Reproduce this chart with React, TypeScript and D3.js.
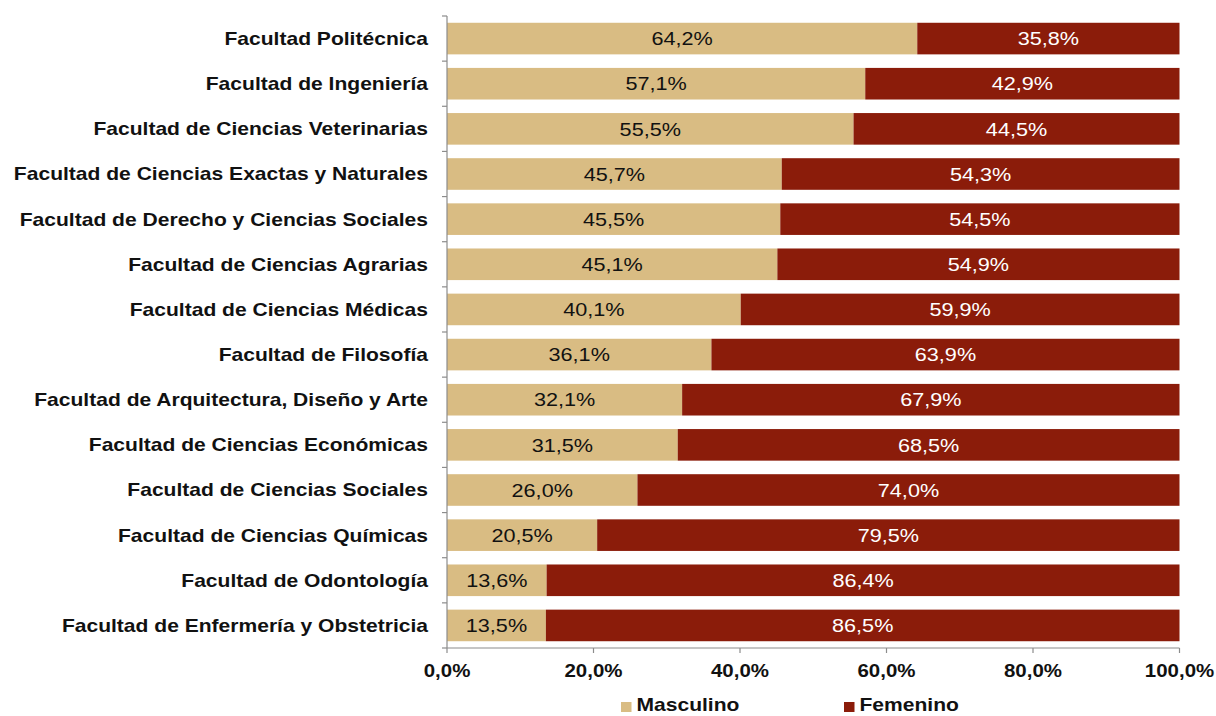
import React from "react";
import * as d3 from "d3";

const categories = [
  "Facultad Politécnica",
  "Facultad de Ingeniería",
  "Facultad de Ciencias Veterinarias",
  "Facultad de Ciencias Exactas y Naturales",
  "Facultad de Derecho y Ciencias Sociales",
  "Facultad de Ciencias Agrarias",
  "Facultad de Ciencias Médicas",
  "Facultad de Filosofía",
  "Facultad de Arquitectura, Diseño y Arte",
  "Facultad de Ciencias Económicas",
  "Facultad de Ciencias Sociales",
  "Facultad de Ciencias Químicas",
  "Facultad de Odontología",
  "Facultad de Enfermería y Obstetricia",
];
const masculino = [64.2, 57.1, 55.5, 45.7, 45.5, 45.1, 40.1, 36.1, 32.1, 31.5, 26.0, 20.5, 13.6, 13.5];
const femenino = [35.8, 42.9, 44.5, 54.3, 54.5, 54.9, 59.9, 63.9, 67.9, 68.5, 74.0, 79.5, 86.4, 86.5];
const xTicks = [0, 20, 40, 60, 80, 100];
const seriesNames = ["Masculino", "Femenino"];

const W = 1216;
const H = 716;
const colors = ["#D9BC83", "#8B1C0A"];
const font = "'Liberation Sans', Arial, sans-serif";
const SX = 1.17;
const fmt = (v: number) => v.toFixed(1).replace(".", ",") + "%";

function SText(props: {
  x: number;
  y: number;
  anchor?: "start" | "middle" | "end";
  size: number;
  bold?: boolean;
  fill?: string;
  dy?: string;
  children: React.ReactNode;
}) {
  return (
    <text
      transform={`translate(${props.x},${props.y}) scale(${SX},1)`}
      dy={props.dy}
      textAnchor={props.anchor || "start"}
      fontSize={props.size}
      fontWeight={props.bold ? "bold" : "normal"}
      fill={props.fill || "#111"}
    >
      {props.children}
    </text>
  );
}

export default function App() {
  const x = d3.scaleLinear().domain([0, 100]).range([447, 1179.5]);
  const y = d3.scaleBand<string>().domain(categories).range([16, 648]).paddingInner(0.3).paddingOuter(0.15);
  const bounds = d3.range(categories.length + 1).map((i) => 16 + i * ((648 - 16) / categories.length));

  return (
    <svg width={W} height={H} style={{ position: "absolute", left: 0, top: 0, background: "#fff" }} fontFamily={font}>
      {categories.map((c, i) => {
        const y0 = y(c)!;
        const bh = y.bandwidth();
        const m = masculino[i];
        const f = femenino[i];
        return (
          <g key={c}>
            <rect x={x(0)} y={y0} width={x(m) - x(0)} height={bh} fill={colors[0]} />
            <rect x={x(m)} y={y0} width={x(m + f) - x(m)} height={bh} fill={colors[1]} />
            <SText x={(x(0) + x(m)) / 2} y={y0 + bh / 2} dy="0.36em" anchor="middle" size={18.5} fill="#111">
              {fmt(m)}
            </SText>
            <SText x={(x(m) + x(m + f)) / 2} y={y0 + bh / 2} dy="0.36em" anchor="middle" size={18.5} fill="#fff">
              {fmt(f)}
            </SText>
            <SText x={428} y={y0 + bh / 2} dy="0.36em" anchor="end" size={18} bold>
              {c}
            </SText>
          </g>
        );
      })}
      {/* category axis */}
      <line x1={447} x2={447} y1={16} y2={648} stroke="#8c8c8c" strokeWidth={1.2} />
      {bounds.map((b, i) => (
        <line key={i} x1={442} x2={447} y1={b} y2={b} stroke="#8c8c8c" strokeWidth={1.2} />
      ))}
      {/* value axis */}
      <line x1={447} x2={1179.5} y1={648} y2={648} stroke="#8c8c8c" strokeWidth={1.2} />
      {xTicks.map((t) => (
        <g key={t}>
          <line x1={x(t)} x2={x(t)} y1={648} y2={653} stroke="#8c8c8c" strokeWidth={1.2} />
          <SText x={x(t)} y={677} anchor="middle" size={17.5} bold>
            {fmt(t)}
          </SText>
        </g>
      ))}
      {/* legend */}
      {seriesNames.map((s, i) => {
        const lx = i === 0 ? 621 : 844;
        return (
          <g key={s}>
            <rect x={lx} y={702} width={10.5} height={10} fill={colors[i]} />
            <SText x={lx + 15.5} y={711} size={18} bold>
              {s}
            </SText>
          </g>
        );
      })}
    </svg>
  );
}
